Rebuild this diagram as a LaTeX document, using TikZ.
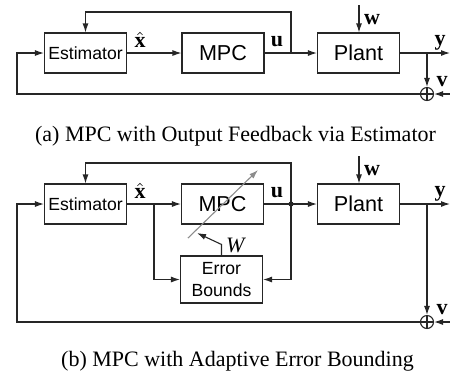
\documentclass[tikz,border=0pt]{standalone}
\usepackage{fontspec}
\setmainfont{Liberation Serif}
\newfontfamily\boxfont{Liberation Sans}
\usetikzlibrary{arrows.meta}

\begin{document}
\begin{tikzpicture}[x=0.5pt, y=-0.5pt, line width=0.55pt, draw=black!85,
  blk/.style ={draw, minimum width=41pt, minimum height=20pt, inner sep=0pt,
               font=\boxfont\fontsize{8.8}{11}\selectfont, align=center},
  big/.style ={font=\boxfont\fontsize{10.8}{12}\selectfont},
  sum/.style ={draw, circle, minimum size=6.5pt, inner sep=0pt},
  dot/.style ={circle, fill=black!85, minimum size=2.6pt, inner sep=0pt},
  sig/.style ={-{Latex[length=4.5pt,width=3pt]}},
  lbl/.style ={font=\fontsize{11}{12}\selectfont, inner sep=0pt},
  captxt/.style ={font=\fontsize{11}{13}\selectfont}]

  \useasboundingbox (0,0) rectangle (450,372);

  % ---------------- (a) output feedback ----------------
  \node[blk] (est) at (85.5,53) {Estimator};
  \node[blk,big] (mpc) at (223,53) {MPC};
  \node[blk,big] (plant) at (358.5,53) {Plant};
  \node[sum] (sa) at (427,94) {};
  \draw (sa.north) -- (sa.south) (sa.west) -- (sa.east);

  \coordinate (ja) at (291,53);  \coordinate (ta) at (291,12);
  \coordinate (wa) at (359,5);   \coordinate (ya) at (450,53);
  \coordinate (ba) at (427,53);  \coordinate (va) at (450,94);
  \coordinate (la) at (17,94);

  \draw[sig] (est) -- (mpc);
  \draw[sig] (mpc) -- (plant);
  \draw[sig] (ja) -- (ta) -| (est.north);
  \draw[sig] (wa) -- (wa |- plant.north);
  \draw[sig] (plant) -- (ya);
  \draw[sig] (ba) -- (sa);
  \draw[sig] (va) -- (sa);
  \draw[sig] (sa) -- (la) |- (est);

  \node[lbl] (xha) at (140,40) {$\hat{\mathbf{x}}$};
  \node[lbl] (ua)  at (277,42) {\textbf{u}};
  \node[lbl] (wla) at (372,20) {\textbf{w}};
  \node[lbl] (yla) at (440,43) {\textbf{y}};
  \node[lbl] (vla) at (442,82) {\textbf{v}};

  \node[captxt] (capa) at (235.5,136) {(a) MPC with Output Feedback via Estimator};

  % ---------------- (b) adaptive error bounding ----------------
  \node[blk] (est2) at (85.5,204) {Estimator};
  \node[blk,big] (mpc2) at (222.5,204) {MPC};
  \node[blk,big] (plant2) at (358.5,204) {Plant};
  \node[blk, minimum height=23.5pt] (err) at (221.5,279.5) {Error\\Bounds};
  \node[dot] (jb) at (291,204) {};
  \node[sum] (sb) at (427,322) {};
  \draw (sb.north) -- (sb.south) (sb.west) -- (sb.east);

  \coordinate (tb) at (291,163);  \coordinate (xb) at (154,204);
  \coordinate (wb) at (359,156);  \coordinate (yb) at (450,204);
  \coordinate (bb) at (427,204);  \coordinate (vb) at (450,322);
  \coordinate (lb) at (17,322);
  \coordinate (wt) at (197,233);  % tip of W arrow
  \coordinate (ga) at (188,238);  \coordinate (gb) at (258,170);

  \draw[sig] (est2) -- (mpc2);
  \draw[sig] (mpc2) -- (plant2);
  \draw[sig] (jb.center) -- (tb) -| (est2.north);
  \draw[sig] (xb) |- (err.west);
  \draw[sig] (jb.center) |- (err.east);
  \draw[sig] (err.north) -- ++(0,-11) -- (wt);
  \draw[sig, draw=black!45] (ga) -- (gb);
  \draw[sig] (wb) -- (wb |- plant2.north);
  \draw[sig] (plant2) -- (yb);
  \draw[sig] (bb) -- (sb);
  \draw[sig] (vb) -- (sb);
  \draw[sig] (sb) -- (lb) |- (est2);

  \node[lbl] (xhb) at (140,191) {$\hat{\mathbf{x}}$};
  \node[lbl] (ub)  at (277,193) {\textbf{u}};
  \node[lbl] (Wl)  at (236,245) {\textit{W}};
  \node[lbl] (wlb) at (372,171) {\textbf{w}};
  \node[lbl] (ylb) at (440,194) {\textbf{y}};
  \node[lbl] (vlb) at (442,310) {\textbf{v}};

  \node[captxt] (capb) at (237.5,361) {(b) MPC with Adaptive Error Bounding};
\end{tikzpicture}
\end{document}
